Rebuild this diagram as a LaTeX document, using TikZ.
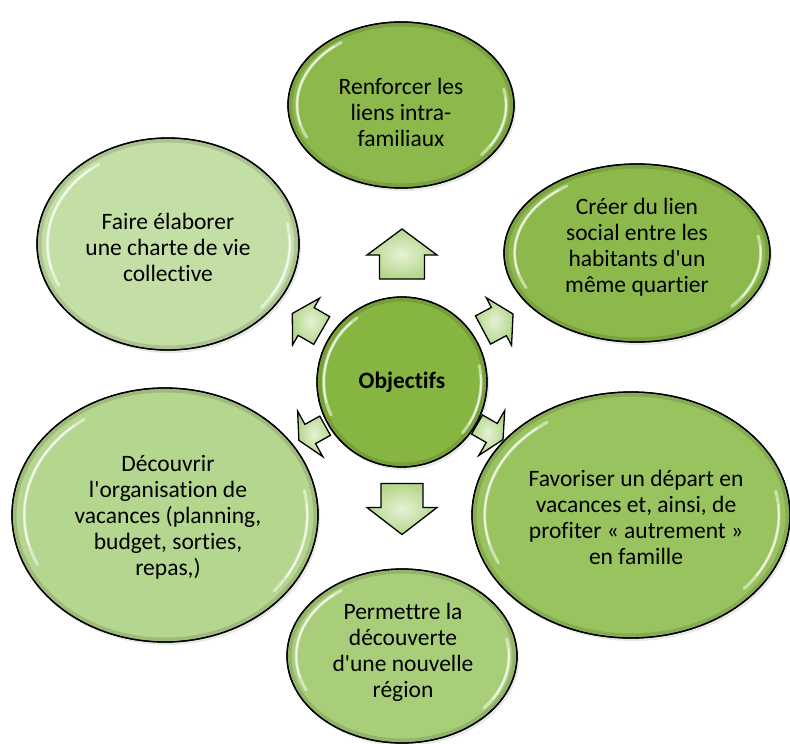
\documentclass[tikz,border=0pt]{standalone}
\usepackage{fontspec}
\setmainfont[Ligatures={NoCommon}]{Carlito}
\usetikzlibrary{shapes.geometric,shadows}
\definecolor{gDark}{HTML}{8DB94C}
\definecolor{gCenter}{HTML}{87B541}
\definecolor{gFav}{HTML}{99C35E}
\definecolor{gPerm}{HTML}{A8CE7A}
\definecolor{gDec}{HTML}{B4D68E}
\definecolor{gFaire}{HTML}{C4DFA6}
\definecolor{arrowin}{HTML}{E6F2D6}
\definecolor{arrowout}{HTML}{B4D68A}
\tikzset{
  bubble/.style={ellipse, draw=black, line width=1.3pt, inner sep=0pt,
    drop shadow={opacity=0.18, shadow xshift=2pt, shadow yshift=-3pt}},
  btext/.style={align=center, font=\fontsize{23.5}{26}\selectfont, text=black, inner sep=0pt},
  gloss/.style={white, line width=3pt, opacity=0.5, line cap=round},
  glossthin/.style={white, line width=1.4pt, opacity=0.75, line cap=round},
  rim/.style={black, line width=9pt, opacity=0.12},
  blockarrow/.style={draw=black, line width=1.3pt, line join=miter,
    inner color=arrowin, outer color=arrowout}
}
% #1,#2 centre, #3 angle, #4 length, #5 head length, #6 shaft half width, #7 head half width
\newcommand\myblockarrow[7]{%
  \begin{scope}[shift={(#1,#2)}, x=1pt, y=1pt, rotate=#3]
    \draw[blockarrow] (-#4/2,-#6) -- (#4/2-#5,-#6) -- (#4/2-#5,-#7) -- (#4/2,0)
      -- (#4/2-#5,#7) -- (#4/2-#5,#6) -- (-#4/2,#6) -- cycle;
  \end{scope}}
% #1 name, #2,#3 centre, #4 rx, #5 ry, #6 colour
\newcommand\mybubble[6]{%
  \node[bubble, fill=#6, minimum width={2*#4}, minimum height={2*#5}] (#1) at (#2,#3) {};
  \begin{scope}[shift={(#2,#3)}, x=1pt, y=1pt]
    \begin{scope}
      \clip (0,0) ellipse [x radius=#4, y radius=#5];
      \draw[rim] (0,0) ellipse [x radius=#4, y radius=#5];
    \end{scope}
    \draw[gloss] (125:{0.92*#4} and {0.92*#5}) arc[start angle=125, end angle=205, x radius={0.92*#4}, y radius={0.92*#5}];
    \draw[glossthin] (130:{0.92*#4} and {0.92*#5}) arc[start angle=130, end angle=195, x radius={0.92*#4}, y radius={0.92*#5}];
    \draw[gloss] (-40:{0.93*#4} and {0.93*#5}) arc[start angle=-40, end angle=12, x radius={0.93*#4}, y radius={0.93*#5}];
    \draw[glossthin] (-32:{0.93*#4} and {0.93*#5}) arc[start angle=-32, end angle=5, x radius={0.93*#4}, y radius={0.93*#5}];
    \draw[black, line width=1.3pt] (0,0) ellipse [x radius=#4, y radius=#5];
  \end{scope}}
\begin{document}
\begin{tikzpicture}[x=1pt, y=-1pt]
\useasboundingbox (0,0) rectangle (790,744);
\fill[white] (0,0) rectangle (790,744);

% ellipses
\mybubble{top}{401}{105}{113}{83}{gDark}
\mybubble{creer}{637}{253}{133}{89}{gDark}
\mybubble{faire}{168}{244}{131}{106}{gFaire}
\mybubble{dec}{165}{515}{153}{127}{gDec}
\mybubble{fav}{631}{515}{159}{123}{gFav}
\mybubble{perm}{402}{656}{115}{87}{gPerm}
\mybubble{obj}{402}{382}{85}{85}{gCenter}

% texts
\node[btext] (ttop) at (401,112) {Renforcer les\\liens intra-\\familiaux};
\node[btext] (tcreer) at (637,247) {Créer du lien\\social entre les\\habitants d\textquotesingle un\\même quartier};
\node[btext] (tfaire) at (168,247) {Faire élaborer\\une charte de vie\\collective};
\node[btext] (tdec) at (168,517) {Découvrir\\l\textquotesingle organisation de\\vacances (planning,\\budget, sorties,\\repas,)};
\node[btext] (tfav) at (636,517) {Favoriser un départ en\\vacances et, ainsi, de\\profiter « autrement »\\en famille};
\node[btext] (tperm) at (403,652) {Permettre la\\découverte\\d\textquotesingle une nouvelle\\région};
\node[btext, font=\fontsize{23.5}{26}\selectfont\bfseries] (tobj) at (402,382) {Objectifs};

% block arrows
\myblockarrow{402}{254}{90}{50}{26}{22.5}{35}
\myblockarrow{402}{509}{-90}{51}{27}{21}{35}
\myblockarrow{307}{322}{150}{34}{16}{16}{27}
\myblockarrow{498}{322}{28}{34}{16}{16}{27}
\myblockarrow{312}{433}{209}{30}{13}{11}{26}
\myblockarrow{490}{432}{-30}{30}{13}{11}{26}
\end{tikzpicture}
\end{document}
